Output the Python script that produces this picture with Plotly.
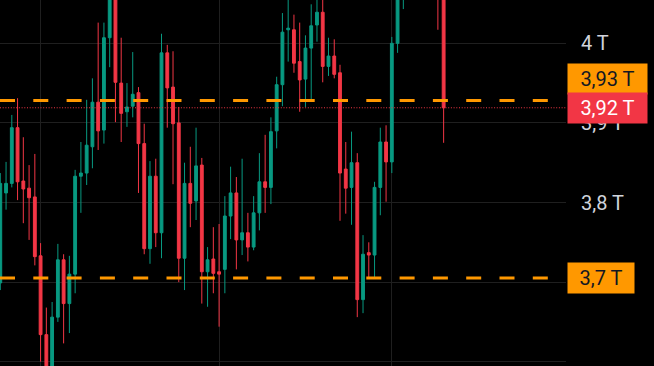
import plotly.graph_objects as go

# ---- data ----
candle_index = list(range(78))
opens = [3.699, 3.812, 3.824, 3.894, 3.827, 3.818, 3.807, 3.733, 3.634, 3.590,
         3.656, 3.728, 3.673, 3.710, 3.833, 3.837, 3.870, 3.926, 3.891, 4.007,
         4.065, 3.950, 3.914, 3.921, 3.938, 3.874, 3.742, 3.833, 3.762, 3.988,
         3.945, 3.900, 3.730, 3.824, 3.802, 3.847, 3.713, 3.729, 3.713, 3.716,
         3.783, 3.812, 3.753, 3.762, 3.744, 3.787, 3.826, 3.819, 3.890, 3.948,
         4.017, 4.017, 3.977, 3.955, 3.994, 4.023, 4.039, 3.971, 3.984, 3.963,
         3.842, 3.819, 3.850, 3.678, 3.737, 3.734, 3.819, 3.876, 3.851, 4.000,
         4.065, 4.090, 4.110, 4.095, 4.120, 4.105, 4.090, 4.070]
highs = [3.837, 3.851, 3.910, 3.931, 3.882, 3.847, 3.861, 3.749, 3.668, 3.675,
         3.748, 3.735, 3.733, 3.841, 3.876, 3.929, 3.956, 4.026, 4.026, 4.085,
         4.090, 4.007, 3.950, 3.989, 3.945, 3.899, 3.852, 3.855, 4.012, 3.998,
         3.990, 3.920, 3.850, 3.870, 3.894, 3.856, 3.744, 3.769, 3.773, 3.808,
         3.845, 3.832, 3.855, 3.787, 3.808, 3.862, 3.885, 3.907, 3.958, 4.038,
         4.058, 4.036, 4.026, 4.010, 4.049, 4.058, 4.056, 4.007, 4.005, 3.973,
         3.876, 3.889, 3.862, 3.759, 3.750, 3.826, 3.894, 3.897, 4.008, 4.080,
         4.100, 4.120, 4.125, 4.130, 4.135, 4.115, 4.100, 4.080]
lows = [3.690, 3.791, 3.819, 3.803, 3.774, 3.753, 3.721, 3.600, 3.577, 3.575,
        3.650, 3.623, 3.636, 3.686, 3.787, 3.822, 3.843, 3.866, 3.874, 3.970,
        3.901, 3.876, 3.895, 3.907, 3.812, 3.735, 3.723, 3.744, 3.730, 3.894,
        3.823, 3.700, 3.690, 3.769, 3.778, 3.673, 3.669, 3.686, 3.644, 3.686,
        3.754, 3.716, 3.734, 3.726, 3.740, 3.765, 3.787, 3.798, 3.868, 3.921,
        3.977, 3.963, 3.914, 3.920, 3.929, 4.002, 3.951, 3.959, 3.956, 3.777,
        3.786, 3.772, 3.656, 3.661, 3.706, 3.705, 3.784, 3.801, 3.837, 3.988,
        4.043, 4.075, 4.080, 4.085, 4.090, 4.070, 4.017, 3.875]
closes = [3.824, 3.824, 3.894, 3.826, 3.817, 3.806, 3.732, 3.634, 3.587, 3.656,
          3.728, 3.673, 3.710, 3.833, 3.837, 3.872, 3.926, 3.890, 4.007, 4.070,
          3.951, 3.912, 3.920, 3.936, 3.874, 3.742, 3.833, 3.762, 3.988, 3.944,
          3.899, 3.730, 3.824, 3.799, 3.846, 3.713, 3.728, 3.711, 3.710, 3.783,
          3.812, 3.753, 3.762, 3.744, 3.787, 3.826, 3.819, 3.889, 3.948, 4.014,
          4.019, 3.975, 3.954, 3.994, 4.022, 4.039, 3.971, 3.984, 3.961, 3.837,
          3.818, 3.850, 3.678, 3.735, 3.734, 3.819, 3.876, 3.851, 4.000, 4.065,
          4.090, 4.110, 4.095, 4.120, 4.105, 4.090, 4.070, 3.919]

level_values = [3.928, 3.705]
level_labels = ["3,93 T", "3,7 T"]
current_label = "3,92 T"

tick_vals = [3.6, 3.7, 3.8, 3.9, 4.0]
# the 3,7 T scale label sits fully under the orange level label, as in the reference
tick_labels = ["3,6 T", "", "3,8 T", "3,9 T", "4 T"]
x_grid_vals = [7, 38, 68]

# ---- style ----
GREEN = "#089981"
RED = "#F23645"
ORANGE = "#FF9800"
GRID = "#1f1f1f"
TEXT = "#d1d4dc"
FONT = "Roboto"

fig = go.Figure(go.Candlestick(
    x=candle_index, open=opens, high=highs, low=lows, close=closes,
    increasing=dict(line=dict(color=GREEN, width=1), fillcolor=GREEN),
    decreasing=dict(line=dict(color=RED, width=1), fillcolor=RED),
    whiskerwidth=0, hoverinfo="skip",
))

current_price = closes[-1]

# horizontal levels
for v in level_values:
    fig.add_shape(type="line", xref="paper", x0=0, x1=1, yref="y", y0=v, y1=v,
                  line=dict(color=ORANGE, width=3, dash="15px,18.3px"), layer="above")
fig.add_shape(type="line", xref="paper", x0=0, x1=1, yref="y", y0=current_price, y1=current_price,
              line=dict(color=RED, width=1, dash="1px,1.7px"), layer="above")

# price labels on the right scale
def price_label(y, text, bg, fg, w, yshift=0):
    fig.add_annotation(xref="paper", x=1, xanchor="left", xshift=1,
                       yref="y", y=y, yanchor="middle", yshift=yshift,
                       text=text, showarrow=False, bgcolor=bg, borderpad=3,
                       width=w, align="center",
                       font=dict(family=FONT, size=20, color=fg))

price_label(level_values[0], level_labels[0], ORANGE, "#131722", 73, yshift=22)
price_label(current_price, current_label, RED, "#ffffff", 73)
price_label(level_values[1], level_labels[1], ORANGE, "#131722", 60)

fig.update_layout(
    width=654, height=366,
    margin=dict(l=0, r=88, t=0, b=0),
    paper_bgcolor="#000000", plot_bgcolor="#000000",
    showlegend=False,
    font=dict(family=FONT, color=TEXT),
    xaxis=dict(range=[-0.05, 98.25], tickvals=x_grid_vals, showticklabels=False,
               showgrid=True, gridcolor=GRID, gridwidth=1, zeroline=False,
               showline=False, ticks="", rangeslider=dict(visible=False), fixedrange=True),
    yaxis=dict(side="right", range=[3.5946, 4.0544], tickvals=tick_vals, ticktext=tick_labels,
               showgrid=True, gridcolor=GRID, gridwidth=1, zeroline=False, showline=False,
               ticks="", ticklabelstandoff=14,
               tickfont=dict(family=FONT, size=20, color=TEXT), fixedrange=True),
)

fig.write_html("out.html")
